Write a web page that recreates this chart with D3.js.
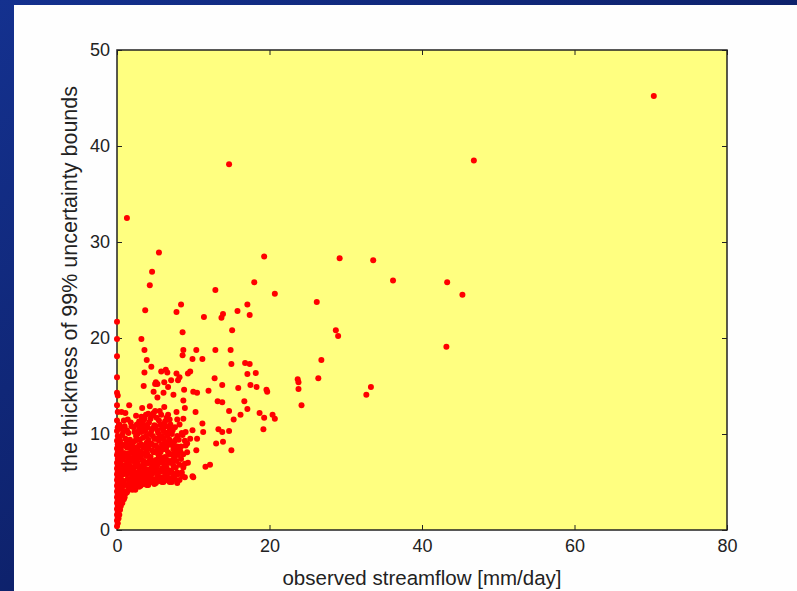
<!DOCTYPE html>
<html>
<head>
<meta charset="utf-8">
<script src="https://cdn.jsdelivr.net/npm/d3@7"></script>
<style>
  body { margin: 0; padding: 0; overflow: hidden; }
  text { font-family: "Liberation Sans", Arial, sans-serif; }
</style>
</head>
<body>
<div id="chart"></div>
<script>
// axis ticks
const xTicks = [0, 20, 40, 60, 80];
const yTicks = [0, 10, 20, 30, 40, 50];

// column of points sitting on x = 0
const flowZero = [
  [0,0.4],[0.1,0.7],[0,1.0],[0.1,1.3],[0,1.6],[0.1,1.9],[0,2.2],[0.1,2.5],[0,2.8],[0.1,3.1],
  [0,3.4],[0.1,3.7],[0,4.0],[0.1,4.3],[0,4.6],[0.1,4.9],[0,5.2],[0.1,5.5],[0,5.8],[0.1,6.1],
  [0,6.4],[0.1,6.7],[0,7.0],[0.1,7.4],[0,7.8],[0.1,8.1],[0,8.5],[0.1,8.9],[0,9.3],[0.1,9.8],
  [0,10.3],[0.1,10.7],[0,11.4],[0.1,12.3],[0,13.0],[0.1,14.0],[0,14.3],[0,15.9],[0,18.1],[0,19.9],[0,21.7]
];

// dense low-flow cluster (0 - 10 mm/day)
const flowLow = [
  [0.3,1.6],[0.4,2.1],[0.5,2.5],[0.3,2.9],[0.6,3.0],[0.4,3.4],[0.8,3.5],[0.5,3.9],[0.9,4.0],[0.3,4.3],
  [0.7,4.5],[0.4,4.9],[0.9,5.1],[0.5,5.4],[0.8,5.8],[0.3,6.1],[0.6,6.4],[0.9,6.7],[0.4,7.0],[0.7,7.3],
  [0.3,7.7],[0.8,8.0],[0.5,8.4],[0.9,8.8],[0.4,9.3],[0.7,9.9],[0.5,10.6],[0.9,11.4],[0.6,12.3],
  [1.1,3.8],[1.4,4.1],[1.8,4.3],[1.2,4.7],[1.6,5.0],[1.9,5.4],[1.3,5.8],[1.7,6.1],[1.1,6.5],[1.5,6.9],
  [1.9,7.2],[1.2,7.6],[1.6,8.0],[1.3,8.6],[1.8,8.9],[1.1,9.5],[1.5,10.1],[1.9,10.8],[1.4,11.5],[1.1,12.2],
  [1.6,13.0],
  [2.1,4.4],[2.5,4.6],[2.9,4.5],[2.2,5.0],[2.7,5.3],[2.4,5.7],[2.9,6.0],[2.1,6.3],[2.6,6.7],[2.3,7.1],
  [2.8,7.5],[2.2,7.9],[2.6,8.3],[2.9,8.8],[2.4,9.3],[2.7,10.0],[2.2,10.7],[2.9,11.3],[2.5,11.9],
  [3.1,4.6],[3.5,4.8],[3.9,4.7],[3.3,5.2],[3.7,5.6],[3.2,6.0],[3.6,6.4],[3.9,6.9],[3.3,7.3],[3.8,7.7],
  [3.1,8.2],[3.5,8.6],[3.9,9.1],[3.4,9.6],[3.7,10.3],[3.2,10.9],[3.6,11.6],[3.3,12.7],[3.5,15.0],[3.6,16.4],
  [4.1,4.7],[4.5,5.0],[4.9,4.8],[4.3,5.4],[4.7,5.9],[4.2,6.3],[4.6,6.7],[4.9,7.2],[4.4,7.6],[4.8,8.1],
  [4.1,8.5],[4.5,9.0],[4.9,9.5],[4.3,10.0],[4.7,10.6],[4.2,11.2],[4.6,11.9],[4.3,12.9],[4.8,14.4],[4.5,17.0],
  [5.1,4.9],[5.5,5.1],[5.9,5.0],[5.3,5.6],[5.7,6.1],[5.2,6.5],[5.6,7.0],[5.9,7.5],[5.4,7.9],[5.8,8.4],
  [5.1,8.8],[5.5,9.3],[5.9,9.8],[5.3,10.4],[5.7,11.0],[5.2,11.7],[5.6,12.4],[5.3,13.8],[5.0,15.2],[5.1,15.4],
  [5.3,15.2],[5.8,16.5],
  [6.1,5.0],[6.5,5.2],[6.9,5.0],[6.3,5.7],[6.7,6.2],[6.2,6.8],[6.6,7.3],[6.9,7.9],[6.4,8.4],[6.8,8.9],
  [6.1,9.5],[6.5,10.1],[6.9,10.6],[6.3,11.3],[6.7,12.0],[6.2,12.8],[6.1,14.3],[6.2,15.4],[6.4,16.7],[6.6,16.4],
  [6.7,14.9],
  [7.2,5.0],[7.6,5.3],[7.9,4.9],[7.3,5.9],[7.7,6.5],[7.1,7.0],[7.5,7.6],[7.9,8.2],[7.3,8.8],[7.7,9.4],
  [7.2,10.0],[7.6,10.7],[7.9,11.5],[7.8,12.3],[7.4,14.1],[7.1,15.6],[7.8,16.3],[8.0,15.6],[8.2,15.9],
  [8.2,5.2],[8.9,5.5],[8.6,5.6],[9.9,5.6],[10.0,5.5],[8.7,6.5],[9.3,7.0],[9.2,8.1],[8.3,8.2],[9.0,8.8],
  [9.6,9.5],[8.5,10.1],[9.9,10.4],[8.7,11.6],[8.9,12.7],[8.7,13.5],[8.8,14.6],[9.3,16.3],[9.6,16.5],
  [10.4,8.3],[10.5,9.5],[10.3,12.3],[10.0,14.4],[10.5,14.3],[11.2,11.1],[11.3,10.2]
];

// more points filling the gaps of the cluster
const flowLowFill = [
  [0.2,1.2],[0.2,2.0],[0.3,2.4],[0.5,3.2],[0.2,3.6],[0.6,4.2],[0.2,4.7],[0.7,5.0],[0.2,5.6],[0.5,6.0],
  [0.8,6.2],[0.2,6.8],[0.5,7.5],[0.9,7.8],[0.2,8.2],[0.6,8.9],[0.3,9.7],[0.8,10.2],[0.3,11.0],[0.7,2.8],
  [0.9,3.2],
  [1.0,3.4],[1.3,3.9],[1.5,4.4],[1.9,4.8],[1.4,5.3],[1.0,5.9],[1.8,5.9],[1.3,6.3],[1.8,6.6],[1.3,7.1],
  [1.7,7.5],[1.0,8.0],[1.9,8.2],[1.5,8.6],[1.2,9.0],[1.7,9.4],[1.3,10.4],[1.8,11.2],[1.0,10.8],
  [2.0,4.2],[2.4,4.2],[2.8,4.9],[2.5,5.2],[2.1,5.6],[2.8,5.6],[2.4,6.0],[2.9,6.4],[2.3,6.6],[2.7,7.0],
  [2.1,7.4],[2.5,7.6],[2.9,7.9],[2.4,8.0],[2.2,8.6],[2.7,8.6],[2.1,9.1],[2.8,9.4],[2.5,9.8],[2.3,10.2],
  [2.9,10.5],[2.6,11.0],
  [3.0,4.9],[3.6,5.0],[3.1,5.5],[3.9,5.3],[3.5,5.9],[3.9,6.2],[3.0,6.6],[3.4,6.8],[3.6,7.1],[3.1,7.6],
  [3.5,8.0],[3.9,8.3],[3.2,8.9],[3.7,8.8],[3.0,9.4],[3.8,9.8],[3.2,10.2],[3.5,10.5],[3.9,10.9],[3.4,11.3],
  [3.8,12.0],[3.2,11.8],
  [4.0,5.1],[4.7,5.3],[4.4,5.7],[4.0,6.0],[4.9,6.2],[4.5,6.4],[4.1,7.0],[4.7,7.0],[4.3,7.3],[4.0,7.9],
  [4.6,8.3],[4.3,8.9],[4.9,8.8],[4.1,9.4],[4.7,9.8],[4.5,10.3],[4.0,10.7],[4.9,10.9],[4.4,11.6],[4.8,12.2],
  [4.1,12.1],
  [5.0,5.2],[5.7,5.5],[5.4,6.0],[5.0,6.1],[5.9,6.4],[5.3,6.8],[5.8,7.1],[5.1,7.3],[5.5,7.6],[5.2,8.2],
  [5.7,8.1],[5.3,8.6],[5.9,8.9],[5.1,9.5],[5.6,9.7],[5.4,10.1],[5.9,10.6],[5.1,10.8],[5.5,11.4],[5.8,12.0],
  [5.0,12.4],
  [6.0,5.3],[6.6,5.5],[6.2,6.1],[6.9,6.0],[6.5,6.5],[6.0,7.2],[6.8,7.0],[6.3,7.6],[6.7,8.1],[6.0,8.4],
  [6.5,8.7],[6.3,9.2],[6.9,9.4],[6.6,9.8],[6.1,10.3],[6.8,10.2],[6.4,10.8],[6.0,11.0],[6.9,11.5],[6.5,11.7],
  [7.0,5.4],[7.5,5.6],[7.1,6.2],[7.9,6.0],[7.4,6.7],[7.8,7.2],[7.3,7.3],[7.1,7.9],[7.7,8.0],[7.4,8.4],
  [7.9,8.7],[7.0,9.1],[7.5,9.2],[7.9,9.8],[7.3,10.4],[7.0,11.0],
  [8.0,5.8],[8.5,6.0],[8.2,6.8],[8.9,6.9],[8.4,7.4],[8.0,7.8],[8.7,7.9],[8.4,8.7],[8.9,9.3],[8.1,9.4],
  [8.6,9.9],[9.2,9.0],[8.2,11.0],[9.0,10.2]
];

// scattered points at moderate flow (10 - 20 mm/day)
const flowMid = [
  [11.6,6.6],[12.2,6.8],[13.0,9.0],[13.9,9.2],[13.3,10.5],[13.8,10.2],[14.7,10.3],[15.0,8.3],[15.3,11.5],[16.2,12.0],
  [17.1,12.6],[18.7,12.2],[19.2,10.5],[19.3,11.7],[19.7,14.4],[20.4,12.0],[20.7,11.6],[12.0,14.5],[13.2,13.4],[13.8,13.3],
  [12.8,15.8],[13.8,15.1],[15.9,14.8],[16.7,13.4],[17.5,15.1],[18.3,14.9],[19.6,14.6],[14.7,12.4],[11.2,17.8],[9.9,17.8],
  [10.4,18.75],[12.9,18.75],[14.9,18.75],[15.0,17.3],[16.8,17.4],[17.4,17.3],[17.1,16.25],[18.2,16.35],[15.1,20.8],[8.6,20.6],
  [8.7,18.75],[8.6,18.2],[3.2,19.9],[3.6,18.75],[3.9,17.7],[11.4,22.2],[13.7,22.1],[13.9,22.5],[15.8,22.8],[17.1,23.5],
  [17.4,22.4],[8.4,23.5],[7.8,22.7],[3.7,22.9],[12.9,25.0],[18.0,25.8],[20.7,24.6],[19.3,28.5],[4.6,26.9],[4.3,25.5],
  [5.5,28.9],[1.3,32.5],[14.7,38.1]
];

// high-flow points
const flowHigh = [
  [23.7,15.7],[23.8,14.7],[24.2,13.0],[23.8,15.4],[26.4,15.8],[26.8,17.7],[28.7,20.8],[29.0,20.2],[26.2,23.75],[29.2,28.3],
  [33.6,28.1],[33.3,14.9],[32.7,14.1],[36.2,26.0],[43.3,25.8],[45.3,24.5],[43.2,19.1],[46.8,38.5],[70.4,45.2]
];

const points = flowZero.concat(flowLow, flowLowFill, flowMid, flowHigh);

const W = 797, H = 591;
const margin = {t:50, r:70, b:61, l:117};
const w = W - margin.l - margin.r;
const h = H - margin.t - margin.b;

const svg = d3.select('#chart').append('svg')
  .attr('width', W)
  .attr('height', H);

// slide background
const defs = svg.append('defs');
const grad = defs.append('linearGradient')
  .attr('id', 'bg')
  .attr('x1', '0').attr('y1', '0')
  .attr('x2', '1').attr('y2', '1');
grad.append('stop').attr('offset', '0%').attr('stop-color', '#14318f');
grad.append('stop').attr('offset', '100%').attr('stop-color', '#08134a');

svg.append('rect')
  .attr('width', W).attr('height', H)
  .attr('fill', 'url(#bg)');

svg.append('rect')
  .attr('x', 14).attr('y', 5)
  .attr('width', W - 14).attr('height', H - 5)
  .attr('fill', '#fefefe');

const x = d3.scaleLinear().domain([0, 80]).range([0, w]);
const y = d3.scaleLinear().domain([0, 50]).range([h, 0]);

const plot = svg.append('g')
  .attr('transform', `translate(${margin.l}, ${margin.t})`);

plot.append('rect')
  .attr('width', w).attr('height', h)
  .attr('fill', '#ffff80');

// axes, ticks pointing inwards like matlab
const axisStyle = g => {
  g.select('.domain').remove();
  g.selectAll('line').attr('stroke', '#222');
  g.selectAll('text').attr('fill', '#222').style('font-size', '18px');
};

plot.append('g')
  .attr('transform', `translate(0, ${h})`)
  .call(d3.axisBottom(x).tickValues(xTicks).tickSize(-5).tickPadding(9))
  .call(axisStyle);

plot.append('g')
  .call(d3.axisTop(x).tickValues(xTicks).tickSize(-5).tickFormat(''))
  .call(axisStyle);

plot.append('g')
  .call(d3.axisLeft(y).tickValues(yTicks).tickSize(-5).tickPadding(7))
  .call(axisStyle);

plot.append('g')
  .attr('transform', `translate(${w}, 0)`)
  .call(d3.axisRight(y).tickValues(yTicks).tickSize(-5).tickFormat(''))
  .call(axisStyle);

// frame
plot.append('rect')
  .attr('width', w).attr('height', h)
  .attr('fill', 'none')
  .attr('stroke', '#222')
  .attr('stroke-width', 1.5);

// dots drawn over the frame
plot.selectAll('.dot')
  .data(points)
  .enter()
  .append('circle')
  .attr('class', 'dot')
  .attr('cx', d => x(d[0]))
  .attr('cy', d => y(d[1]))
  .attr('r', 3)
  .attr('fill', '#ff0000');

// labels
svg.append('text')
  .attr('x', margin.l + w / 2)
  .attr('y', 585)
  .attr('text-anchor', 'middle')
  .attr('fill', '#222')
  .style('font-size', '20.5px')
  .text('observed streamflow [mm/day]');

svg.append('text')
  .attr('transform', `translate(77, ${margin.t + h / 2 - 11}) rotate(-90)`)
  .attr('text-anchor', 'middle')
  .attr('fill', '#222')
  .style('font-size', '21.5px')
  .text('the thickness of 99% uncertainty bounds');
</script>
</body>
</html>
